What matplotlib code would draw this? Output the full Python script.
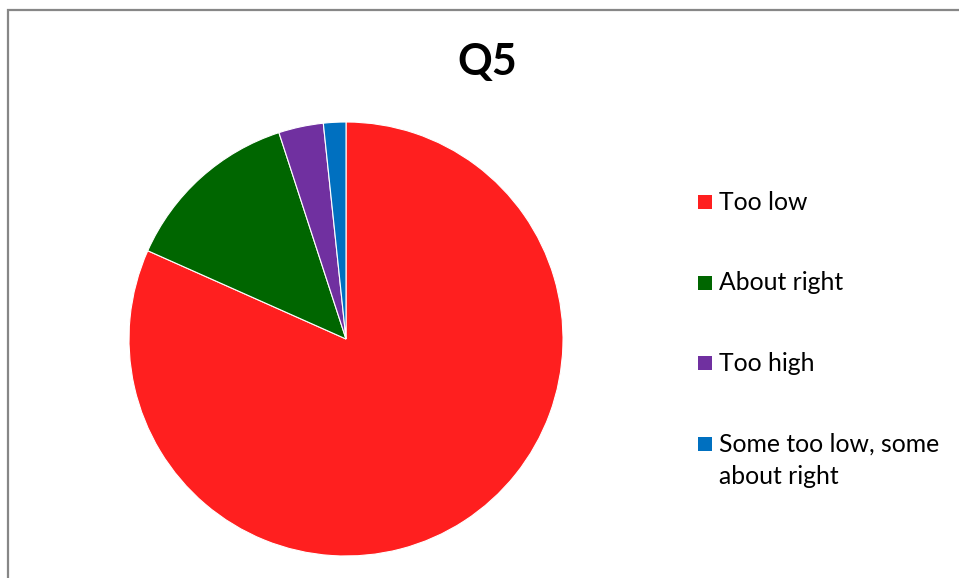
import matplotlib.pyplot as plt
from matplotlib.patches import Rectangle

labels = ['Too low', 'About right', 'Too high', 'Some too low, some\nabout right']
counts = [49, 8, 2, 1]
colors = ['#FF1F1F', '#006600', '#7030A0', '#0070C0']

W, H = 959, 578
plt.rcParams['font.family'] = ['Lato', 'DejaVu Sans']

fig = plt.figure(figsize=(W / 100, H / 100), dpi=100)

# chart area border (cut by the image on the right and bottom)
fig.add_artist(Rectangle((7.5 / W, -0.05), 1.2, (H - 9.5) / H + 0.05,
                         transform=fig.transFigure, fill=False,
                         edgecolor='#878787', linewidth=1.6))

# pie: centre (346, 339) px, radius 217 px
cx, cy, r = 346, H - 339, 217
ax = fig.add_axes([(cx - r) / W, (cy - r) / H, 2 * r / W, 2 * r / H])
ax.pie(counts, colors=colors, startangle=90, counterclock=False,
       wedgeprops=dict(edgecolor='white', linewidth=0.8))
ax.set_xlim(-1, 1)
ax.set_ylim(-1, 1)
ax.set_aspect('auto')
ax.axis('off')

fig.text(487 / W, 1 - 62 / H, 'Q5', ha='center', va='center',
         fontsize=31, fontweight='bold')

# legend drawn by hand so the marker sits on the first line of the text
for i, (lab, col) in enumerate(zip(labels, colors)):
    y = 202 + 80.5 * i
    fig.add_artist(Rectangle((698 / W, 1 - (y + 7) / H), 14 / W, 14 / H,
                             transform=fig.transFigure, facecolor=col,
                             edgecolor='none'))
    for j, line in enumerate(lab.split('\n')):
        fig.text(719 / W, 1 - (y + 8 + 32 * j) / H, line, ha='left',
                 va='baseline', fontsize=17.8)

fig.savefig('out.png', dpi=100)
